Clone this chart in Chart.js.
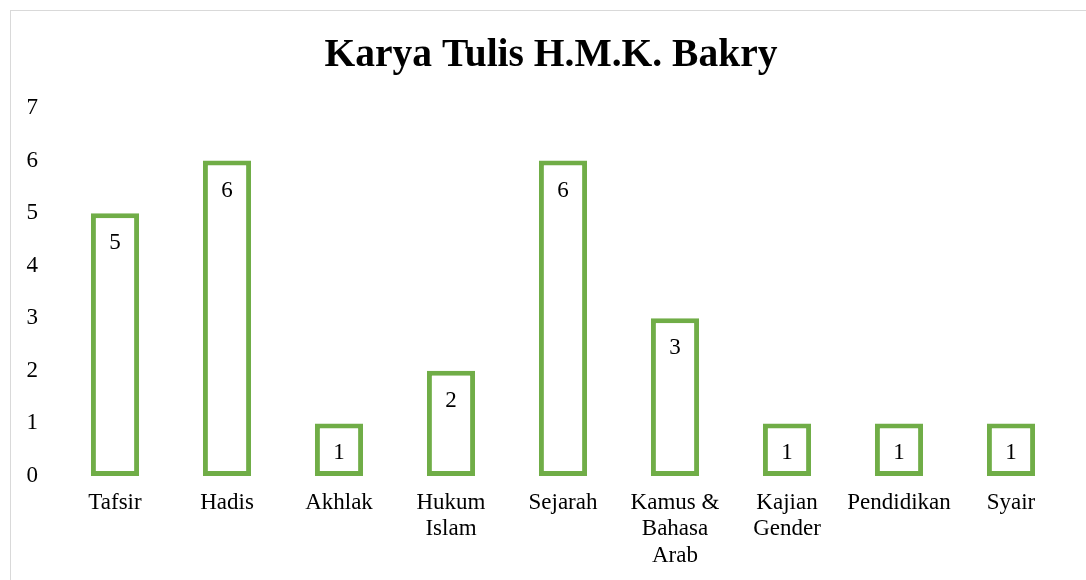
<!DOCTYPE html>
<html>
<head>
<meta charset="utf-8">
<script src="https://cdn.jsdelivr.net/npm/chart.js@4.4.1/dist/chart.umd.min.js"></script>
<style>
    html, body { margin: 0; padding: 0; background: #fff; overflow: hidden; }
    #frame {
        position: absolute; left: 10px; top: 10px;
        width: 1100px; height: 600px;
        border: 1px solid #d9d9d9;
    }
    #wrap { position: absolute; left: 0; top: 0; width: 1086px; height: 580px; }
</style>
</head>
<body>
<div id="frame"></div>
<div id="wrap"><canvas id="bakryChart"></canvas></div>
<script>
// Chart data
const chartTitle = 'Karya Tulis H.M.K. Bakry';
const categories = [
    'Tafsir', 'Hadis', 'Akhlak', ['Hukum', 'Islam'], 'Sejarah',
    ['Kamus &', 'Bahasa', 'Arab'], ['Kajian', 'Gender'], 'Pendidikan', 'Syair'
];
const workCounts = [5, 6, 1, 2, 6, 3, 1, 1, 1];
const yTicks = [0, 1, 2, 3, 4, 5, 6, 7];

const green = '#70AD47';
const serif = "'Liberation Serif', 'Times New Roman', serif";

// Title drawn by hand: the original centres it on the frame, not on the plot
const titlePlugin = {
    id: 'frameTitle',
    afterDraw(chart) {
        const ctx = chart.ctx;
        ctx.save();
        ctx.font = 'bold 39.5px ' + serif;
        ctx.fillStyle = '#000';
        ctx.textAlign = 'center';
        ctx.textBaseline = 'middle';
        ctx.fillText(chartTitle, 551, 55.5);
        ctx.restore();
    }
};

// Draw value labels just inside the top of each bar
const valueLabels = {
    id: 'valueLabels',
    afterDatasetsDraw(chart) {
        const ctx = chart.ctx;
        const meta = chart.getDatasetMeta(0);
        ctx.save();
        ctx.font = '23px ' + serif;
        ctx.fillStyle = '#000';
        ctx.textAlign = 'center';
        ctx.textBaseline = 'middle';
        meta.data.forEach((bar, i) => {
            ctx.fillText(String(workCounts[i]), bar.x, bar.y + 30);
        });
        ctx.restore();
    }
};

const ctx = document.getElementById('bakryChart').getContext('2d');
new Chart(ctx, {
    type: 'bar',
    data: {
        labels: categories,
        datasets: [{
            data: workCounts,
            backgroundColor: '#ffffff',
            borderColor: green,
            borderWidth: 5,
            borderSkipped: false,
            categoryPercentage: 1,
            barPercentage: 0.43
        }]
    },
    options: {
        responsive: true,
        maintainAspectRatio: false,
        animation: false,
        layout: { padding: { left: 0, right: 19, top: 108, bottom: 0 } },
        plugins: {
            legend: { display: false },
            tooltip: { enabled: false },
            title: { display: false }
        },
        scales: {
            x: {
                grid: { display: false, drawTicks: false },
                border: { display: false },
                ticks: {
                    color: '#000',
                    font: { family: serif, size: 23, lineHeight: 1.17 },
                    padding: 13,
                    maxRotation: 0,
                    autoSkip: false
                },
                afterFit(scale) { scale.height = 104; }
            },
            y: {
                min: 0,
                max: 7,
                grid: { display: false, drawTicks: false },
                border: { display: false },
                afterBuildTicks(scale) {
                    scale.ticks = yTicks.map(v => ({ value: v }));
                },
                ticks: {
                    color: '#000',
                    font: { family: serif, size: 23 },
                    padding: 21
                },
                afterFit(scale) { scale.width = 59; }
            }
        }
    },
    plugins: [valueLabels, titlePlugin]
});
</script>
</body>
</html>
